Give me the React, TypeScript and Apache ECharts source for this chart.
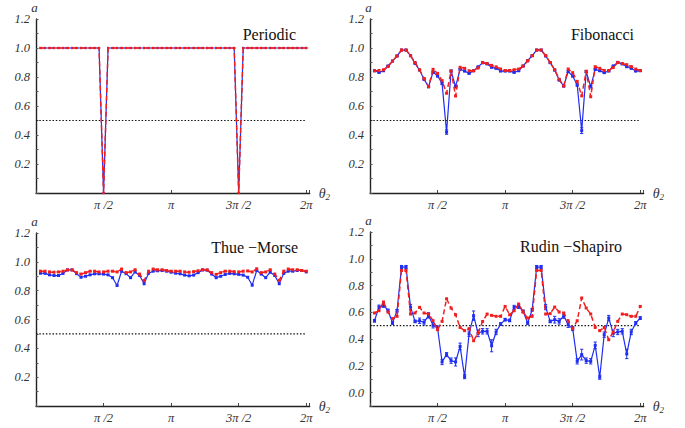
import React, { useEffect, useRef } from "react";
import * as echarts from "echarts";

const PI = Math.PI;
// sample angles theta_2 = k*pi/30, k = 1..60
const theta: number[] = Array.from({ length: 60 }, (_, i) => ((i + 1) * PI) / 30);

const xTickValues = [PI / 2, PI, (3 * PI) / 2, 2 * PI];
const xTickLabels = ["π /2", "π", "3π /2", "2π"];
const panelTitles = ["Periodic", "Fibonacci", "Thue −Morse", "Rudin −Shapiro"];
const refLevel = 0.5;
const refLineX = [0, 2 * PI];

const periodicBlue = [
  1, 1, 1, 1, 1, 1, 1, 1, 1, 1, 1, 1, 1, 1, 0, 1, 1, 1, 1, 1, 1, 1, 1, 1, 1, 1, 1, 1, 1, 1,
  1, 1, 1, 1, 1, 1, 1, 1, 1, 1, 1, 1, 1, 1, 0, 1, 1, 1, 1, 1, 1, 1, 1, 1, 1, 1, 1, 1, 1, 1,
];
const periodicRed = [
  1, 1, 1, 1, 1, 1, 1, 1, 1, 1, 1, 1, 1, 1, 0, 1, 1, 1, 1, 1, 1, 1, 1, 1, 1, 1, 1, 1, 1, 1,
  1, 1, 1, 1, 1, 1, 1, 1, 1, 1, 1, 1, 1, 1, 0, 1, 1, 1, 1, 1, 1, 1, 1, 1, 1, 1, 1, 1, 1, 1,
];

const fibBlue = [
  0.843, 0.832, 0.843, 0.876, 0.91, 0.945, 0.986, 0.986, 0.947, 0.894, 0.848, 0.784, 0.733, 0.834, 0.807,
  0.756, 0.42, 0.841, 0.733, 0.853, 0.841, 0.825, 0.843, 0.87, 0.898, 0.89, 0.867, 0.86, 0.841, 0.841,
  0.841, 0.832, 0.843, 0.876, 0.912, 0.947, 0.986, 0.986, 0.945, 0.899, 0.848, 0.779, 0.738, 0.837, 0.807,
  0.745, 0.43, 0.837, 0.733, 0.853, 0.843, 0.83, 0.841, 0.876, 0.901, 0.89, 0.871, 0.86, 0.841, 0.843,
];
const fibBlueErr = [
  0.004, 0.004, 0.004, 0.004, 0.004, 0.004, 0.004, 0.004, 0.004, 0.004, 0.004, 0.004, 0.006, 0.006, 0.006,
  0.008, 0.015, 0.006, 0.008, 0.004, 0.004, 0.004, 0.004, 0.004, 0.004, 0.004, 0.004, 0.004, 0.004, 0.004,
  0.004, 0.004, 0.004, 0.004, 0.004, 0.004, 0.004, 0.004, 0.004, 0.004, 0.004, 0.004, 0.006, 0.006, 0.006,
  0.008, 0.02, 0.006, 0.008, 0.004, 0.004, 0.004, 0.004, 0.004, 0.004, 0.004, 0.004, 0.004, 0.004, 0.004,
];
const fibRed = [
  0.843, 0.845, 0.85, 0.872, 0.91, 0.945, 0.986, 0.986, 0.947, 0.9, 0.85, 0.79, 0.733, 0.853, 0.825,
  0.775, 0.688, 0.841, 0.669, 0.867, 0.86, 0.843, 0.843, 0.862, 0.9, 0.893, 0.88, 0.87, 0.855, 0.845,
  0.845, 0.85, 0.855, 0.875, 0.912, 0.947, 0.986, 0.986, 0.947, 0.9, 0.85, 0.785, 0.738, 0.855, 0.83,
  0.77, 0.67, 0.84, 0.664, 0.871, 0.86, 0.845, 0.845, 0.865, 0.9, 0.893, 0.885, 0.872, 0.855, 0.845,
];

const tmBlue = [
  0.921, 0.92, 0.91, 0.905, 0.905, 0.92, 0.944, 0.944, 0.918, 0.893, 0.9, 0.91, 0.917, 0.917, 0.915,
  0.91, 0.89, 0.836, 0.935, 0.918, 0.89, 0.93, 0.905, 0.848, 0.921, 0.935, 0.938, 0.94, 0.935, 0.928,
  0.921, 0.917, 0.908, 0.903, 0.908, 0.925, 0.944, 0.942, 0.915, 0.89, 0.9, 0.912, 0.92, 0.917, 0.913,
  0.908, 0.893, 0.838, 0.94, 0.915, 0.89, 0.928, 0.905, 0.848, 0.92, 0.935, 0.935, 0.94, 0.94, 0.93,
];
const tmRed = [
  0.935, 0.935, 0.93, 0.928, 0.93, 0.935, 0.944, 0.944, 0.925, 0.915, 0.925, 0.935, 0.935, 0.93, 0.93,
  0.935, 0.935, 0.93, 0.95, 0.925, 0.93, 0.945, 0.915, 0.87, 0.935, 0.95, 0.945, 0.945, 0.94, 0.935,
  0.935, 0.935, 0.93, 0.928, 0.932, 0.938, 0.945, 0.944, 0.925, 0.913, 0.925, 0.935, 0.935, 0.932, 0.93,
  0.935, 0.937, 0.93, 0.952, 0.925, 0.93, 0.945, 0.915, 0.872, 0.935, 0.95, 0.945, 0.945, 0.94, 0.935,
];

const rsBlue = [
  0.537, 0.639, 0.652, 0.614, 0.52, 0.612, 0.938, 0.938, 0.639, 0.532, 0.537, 0.525, 0.577, 0.503, 0.483,
  0.229, 0.284, 0.239, 0.229, 0.345, 0.119, 0.44, 0.575, 0.443, 0.458, 0.458, 0.35, 0.453, 0.512, 0.545,
  0.539, 0.637, 0.644, 0.607, 0.52, 0.619, 0.938, 0.938, 0.639, 0.532, 0.545, 0.532, 0.575, 0.507, 0.478,
  0.234, 0.284, 0.239, 0.234, 0.353, 0.115, 0.433, 0.557, 0.443, 0.453, 0.458, 0.289, 0.453, 0.52, 0.557,
];
const rsBlueErr = [
  0.01, 0.015, 0.015, 0.01, 0.01, 0.01, 0.012, 0.012, 0.02, 0.01, 0.02, 0.02, 0.02, 0.02, 0.015,
  0.02, 0.015, 0.02, 0.03, 0.025, 0.015, 0.02, 0.035, 0.025, 0.02, 0.02, 0.045, 0.02, 0.01, 0.01,
  0.01, 0.015, 0.015, 0.01, 0.01, 0.01, 0.012, 0.012, 0.02, 0.01, 0.025, 0.02, 0.02, 0.02, 0.015,
  0.02, 0.04, 0.02, 0.02, 0.025, 0.015, 0.02, 0.02, 0.025, 0.02, 0.02, 0.035, 0.02, 0.01, 0.01,
];
const rsRed = [
  0.595, 0.612, 0.677, 0.602, 0.552, 0.57, 0.913, 0.913, 0.587, 0.595, 0.637, 0.595, 0.587, 0.537, 0.47,
  0.532, 0.701, 0.632, 0.582, 0.487, 0.463, 0.478, 0.388, 0.445, 0.532, 0.587, 0.577, 0.57, 0.57, 0.644,
  0.582, 0.612, 0.662, 0.602, 0.557, 0.57, 0.913, 0.913, 0.587, 0.59, 0.639, 0.602, 0.595, 0.537, 0.478,
  0.537, 0.707, 0.632, 0.587, 0.487, 0.463, 0.487, 0.395, 0.453, 0.532, 0.587, 0.582, 0.57, 0.57, 0.644,
];

const BLUE = "#1f2ef2";
const RED = "#f21d1d";
const SERIF = "'Liberation Serif', 'Times New Roman', serif";

export default function App() {
  const ref = useRef<HTMLDivElement>(null);

  useEffect(() => {
    if (!ref.current) return;
    const chart = echarts.init(ref.current, undefined, { renderer: "svg" });

    const W = 273.7;
    const grids = [
      { left: 36, top: 19, width: W, height: 174 },
      { left: 370, top: 19, width: W, height: 174 },
      { left: 36, top: 233, width: W, height: 173 },
      { left: 370, top: 232, width: W, height: 174 },
    ];
    const yMins = [0, 0, 0, -0.1];
    const blues = [periodicBlue, fibBlue, tmBlue, rsBlue];
    const reds = [periodicRed, fibRed, tmRed, rsRed];
    const errs: (number[] | null)[] = [null, fibBlueErr, null, rsBlueErr];
    const redSymbol = [2.2, 3, 3, 3];

    const labelStyle = {
      fontFamily: SERIF,
      fontStyle: "italic" as const,
      fontSize: 12.5,
      color: "#333",
    };

    const xAxes = grids.map((_, i) => ({
      type: "value",
      gridIndex: i,
      min: 0,
      max: 2 * PI + 0.08,
      interval: PI / 2,
      splitLine: { show: false },
      axisLine: { show: true, onZero: false, lineStyle: { color: "#222", width: 1.4 } },
      axisTick: { show: true, inside: true, length: 3, lineStyle: { color: "#444", width: 1 } },
      axisLabel: {
        ...labelStyle,
        margin: 5,
        showMaxLabel: true,
        formatter: (v: number) => {
          for (let j = 0; j < xTickValues.length; j++) {
            if (Math.abs(v - xTickValues[j]) < 1e-3) return xTickLabels[j];
          }
          return "";
        },
      },
    }));

    const yAxes = grids.map((_, i) => ({
      type: "value",
      gridIndex: i,
      min: yMins[i],
      max: 1.2,
      interval: 0.1,
      splitLine: { show: false },
      axisLine: { show: true, onZero: false, lineStyle: { color: "#222", width: 1.4 } },
      axisTick: { show: true, inside: true, length: 2.5, lineStyle: { color: "#555", width: 1 } },
      axisLabel: {
        ...labelStyle,
        margin: 6,
        formatter: (v: number) => {
          const r = Math.round(v * 10);
          if (r % 2 !== 0) return "";
          if (r === 0 && i !== 3) return "";
          if (r < 0) return "";
          return (r / 10).toFixed(1);
        },
      },
    }));

    const series: any[] = [];
    grids.forEach((_, i) => {
      series.push({
        type: "line",
        xAxisIndex: i,
        yAxisIndex: i,
        data: refLineX.map((x) => [x, refLevel]),
        symbol: "none",
        lineStyle: { color: "#111", width: 1.2, type: [1.5, 1.8] },
        z: 1,
        silent: true,
      });
      const e = errs[i];
      if (e) {
        series.push({
          type: "custom",
          xAxisIndex: i,
          yAxisIndex: i,
          data: theta.map((t, k) => [t, blues[i][k], e[k]]),
          encode: { x: 0, y: 1 },
          z: 3,
          silent: true,
          renderItem: (params: any, api: any) => {
            const x = api.value(0);
            const y = api.value(1);
            const er = api.value(2);
            const lo = api.coord([x, y - er]);
            const hi = api.coord([x, y + er]);
            const st = { stroke: BLUE, lineWidth: 1 };
            return {
              type: "group",
              children: [
                { type: "line", shape: { x1: lo[0], y1: lo[1], x2: hi[0], y2: hi[1] }, style: st },
                { type: "line", shape: { x1: lo[0] - 1.6, y1: lo[1], x2: lo[0] + 1.6, y2: lo[1] }, style: st },
                { type: "line", shape: { x1: hi[0] - 1.6, y1: hi[1], x2: hi[0] + 1.6, y2: hi[1] }, style: st },
              ],
            };
          },
        });
      }
      series.push({
        type: "line",
        xAxisIndex: i,
        yAxisIndex: i,
        data: theta.map((t, k) => [t, blues[i][k]]),
        symbol: "rect",
        symbolSize: i === 0 ? 2.2 : 3,
        showSymbol: true,
        itemStyle: { color: BLUE },
        lineStyle: { color: BLUE, width: 1.2 },
        z: 4,
        silent: true,
      });
      series.push({
        type: "line",
        xAxisIndex: i,
        yAxisIndex: i,
        data: theta.map((t, k) => [t, reds[i][k]]),
        symbol: "rect",
        symbolSize: redSymbol[i],
        showSymbol: true,
        itemStyle: { color: RED },
        lineStyle: { color: RED, width: 1.5, type: [5, 3] },
        z: 5,
        silent: true,
      });
    });

    const titlePos = [
      { right: 296, y: 34 },
      { right: 634, y: 34 },
      { right: 298, y: 247 },
      { right: 622, y: 246 },
    ];
    const graphics: any[] = [];
    titlePos.forEach((p, i) => {
      graphics.push({
        type: "text",
        x: p.right,
        y: p.y,
        style: {
          text: panelTitles[i],
          fill: "#111",
          font: `16px ${SERIF}`,
          align: "right",
          verticalAlign: "middle",
        },
      });
    });
    grids.forEach((g, i) => {
      graphics.push({
        type: "text",
        x: g.left - 1.5,
        y: g.top - 12,
        style: {
          text: "a",
          fill: "#333",
          font: `italic 13px ${SERIF}`,
          align: "center",
          verticalAlign: "middle",
        },
      });
      graphics.push({
        type: "text",
        x: g.left + W + 9,
        y: g.top + g.height,
        style: {
          text: "{t|θ}{s|2}",
          rich: {
            t: { font: `italic 14px ${SERIF}`, fill: "#333" },
            s: { font: `italic 9px ${SERIF}`, fill: "#333", verticalAlign: "bottom", padding: [7, 0, 0, 0] },
          },
          align: "left",
          verticalAlign: "middle",
        },
      });
    });

    chart.setOption({
      animation: false,
      backgroundColor: "#fff",
      grid: grids.map((g) => ({ ...g, containLabel: false })),
      xAxis: xAxes,
      yAxis: yAxes,
      series,
      graphic: graphics,
    });

    return () => chart.dispose();
  }, []);

  return (
    <div
      ref={ref}
      style={{ position: "fixed", left: 0, top: 0, width: 685, height: 428, background: "#fff" }}
    />
  );
}
